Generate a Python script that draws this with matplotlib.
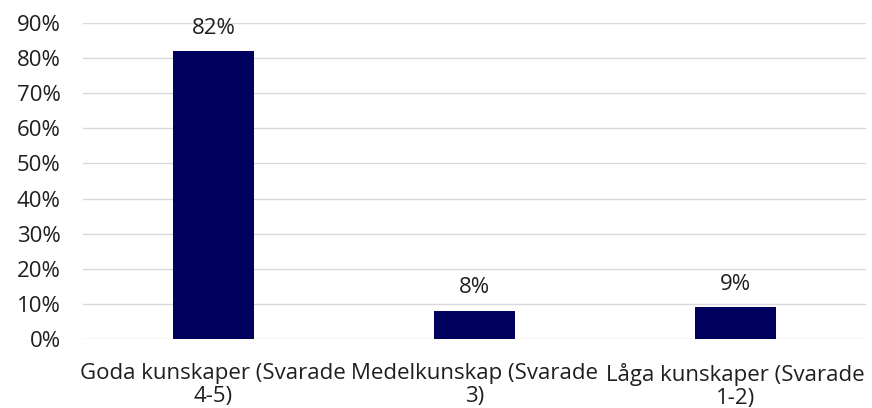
import matplotlib.pyplot as plt
import numpy as np

categories = ["Goda kunskaper (Svarade\n4-5)", "Medelkunskap (Svarade\n3)", "Låga kunskaper (Svarade\n1-2)"]
values = [82, 8, 9]
yticks = [0, 10, 20, 30, 40, 50, 60, 70, 80, 90]

plt.rcParams['font.family'] = ['Open Sans', 'DejaVu Sans']
fs = 16

fig = plt.figure(figsize=(8.72, 4.08), dpi=100)
ax = fig.add_axes([0.095, 0.169, 0.898, 0.7746])

x = np.arange(len(categories))
bars = ax.bar(x, values, width=0.31, color='#00005e', zorder=3)
for b, v in zip(bars, values):
    ax.annotate(f"{v}%", (b.get_x() + b.get_width() / 2, v), xytext=(0, 9),
                textcoords='offset points', ha='center', va='bottom', fontsize=fs, color='#1f1f1f')

ax.set_xlim(-0.5, len(categories) - 0.5)
ax.set_ylim(0, 90)
ax.set_yticks(yticks)
ax.set_yticklabels([f"{t}%" for t in yticks])
ax.set_xticks(x)
ax.set_xticklabels(categories, linespacing=1.12)
ax.grid(axis='y', color='#d9d9d9', linewidth=1, zorder=0)
for s in ax.spines.values():
    s.set_visible(False)
ax.tick_params(axis='both', length=0, labelsize=fs, colors='#1f1f1f')
ax.tick_params(axis='y', pad=16)
ax.tick_params(axis='x', pad=17)

fig.savefig("out.png", dpi=100)
